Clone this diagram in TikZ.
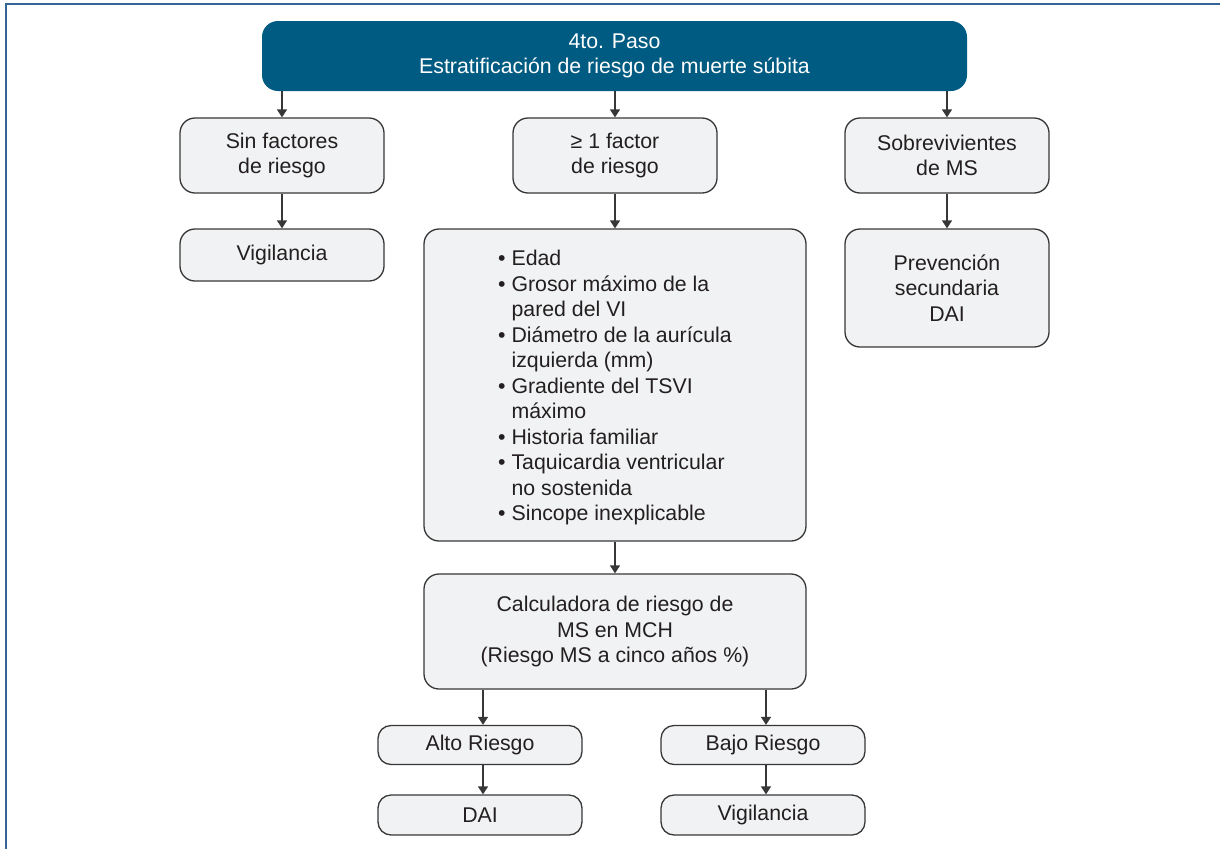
\documentclass[tikz,border=0pt]{standalone}
\usepackage{fontspec}
\setmainfont{Liberation Sans}
\usetikzlibrary{arrows.meta}
\definecolor{hdrblue}{RGB}{0,91,130}
\definecolor{frameblue}{RGB}{52,100,150}
\definecolor{boxfill}{RGB}{241,242,243}
\definecolor{boxline}{RGB}{55,55,55}
\definecolor{ink}{RGB}{35,31,32}
\tikzset{
  txt/.style={font=\fontsize{21.3}{25.5}\selectfont, text=ink, align=center},
  header/.style={txt, text=white, fill=hdrblue, rounded corners=16pt,
    inner sep=0pt, minimum width=705pt, minimum height=70pt},
  stepbox/.style={txt, draw=boxline, line width=1.3pt, fill=boxfill,
    rounded corners=15pt, inner sep=0pt, minimum width=204pt},
  widebox/.style={stepbox, minimum width=382pt},
  flow/.style={draw=boxline, line width=1.4pt,
    -{Triangle[width=10pt,length=8pt]}},
}
\begin{document}
\begin{tikzpicture}[x=1pt,y=-1pt]
\useasboundingbox (0,0) rectangle (1220,849);
% page frame (top and left edges)
\draw[frameblue, line width=2pt] (6,849) -- (6,4) -- (1220,4);

% title bar
\node[header] (hdr) at (614.5,56) {4to. Paso\\Estratificación de riesgo de muerte súbita};

% first level
\node[stepbox, minimum height=75pt] (sin) at (282,155.5) {Sin factores\\de riesgo};
\node[stepbox, minimum height=75pt] (uno) at (615,155.5) {≥ 1 factor\\de riesgo};
\node[stepbox, minimum height=75pt] (sob) at (947,155.5) {Sobrevivientes\\de MS};

% second level
\node[stepbox, minimum height=52pt] (vig1) at (282,255) {Vigilancia};
\node[widebox, minimum height=312pt, align=left] (lista) at (615,385) {%
  \rule{0pt}{21pt}• Edad\\
  • Grosor máximo de la\\
  \phantom{• }pared del VI\\
  • Diámetro de la aurícula\\
  \phantom{• }izquierda (mm)\\
  • Gradiente del TSVI\\
  \phantom{• }máximo\\
  • Historia familiar\\
  • Taquicardia ventricular\\
  \phantom{• }no sostenida\\
  • Sincope inexplicable\hspace*{8pt}};
\node[stepbox, minimum height=118pt] (prev) at (947,288) {Prevención\\secundaria\\DAI};

% risk calculator
\node[widebox, minimum height=115pt] (calc) at (615,631.5) {Calculadora de riesgo de\\MS en MCH\\(Riesgo MS a cinco años \%)};

% outcome
\node[stepbox, minimum height=39pt, rounded corners=13pt] (alto) at (480,745) {Alto Riesgo};
\node[stepbox, minimum height=39pt, rounded corners=13pt] (bajo) at (763,745) {Bajo Riesgo};
\node[stepbox, minimum height=40pt, rounded corners=13pt] (dai) at (480,815) {DAI};
\node[stepbox, minimum height=40pt, rounded corners=13pt] (vig2) at (763,815) {Vigilancia};

% connectors
\draw[flow] (sin.north |- hdr.south) -- (sin.north);
\draw[flow] (uno.north |- hdr.south) -- (uno.north);
\draw[flow] (sob.north |- hdr.south) -- (sob.north);
\draw[flow] (sin) -- (vig1);
\draw[flow] (uno) -- (lista);
\draw[flow] (sob) -- (prev);
\draw[flow] (lista) -- (calc);
\draw[flow] ([xshift=3pt]alto.north |- calc.south) -- ([xshift=3pt]alto.north);
\draw[flow] ([xshift=3pt]bajo.north |- calc.south) -- ([xshift=3pt]bajo.north);
\draw[flow] ([xshift=3pt]alto.south) -- ([xshift=3pt]dai.north);
\draw[flow] ([xshift=3pt]bajo.south) -- ([xshift=3pt]vig2.north);
\end{tikzpicture}
\end{document}
